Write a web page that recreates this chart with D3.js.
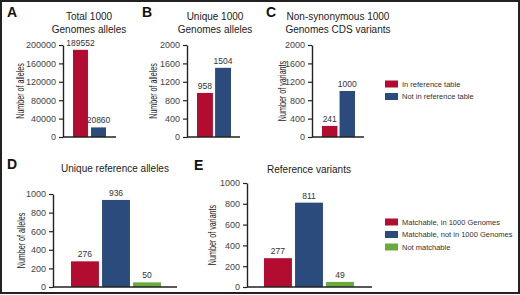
<!DOCTYPE html>
<html>
<head>
<meta charset="utf-8">
<script src="https://cdn.jsdelivr.net/npm/d3@7"></script>
<style>
	body { margin: 0; background: #fff; }
	text { font-family: "Liberation Sans", Arial, sans-serif; fill: #222; }
</style>
</head>
<body>
<div id="chart"></div>
<script>
// chart values
var refCategories = ["In reference table", "Not in reference table"];
var matchCategories = ["Matchable, in 1000 Genomes", "Matchable, not in 1000 Genomes", "Not matchable"];

var totalAlleles = [189552, 20860];
var uniqueAlleles = [958, 1504];
var nonSynVariants = [241, 1000];
var uniqueRefAlleles = [276, 936, 50];
var refVariants = [277, 811, 49];

var ticksA = [0, 40000, 80000, 120000, 160000, 200000];
var ticksBC = [0, 400, 800, 1200, 1600, 2000];
var ticksDE = [0, 200, 400, 600, 800, 1000];

var colours = ["#b20c30", "#2c4b7d", "#6bab3e"];

function init() {
	var w = 520;
	var h = 295;

	var svg = d3.select("#chart")
		.append("svg")
		.attr("width", w)
		.attr("height", h);

	// frame round the figure
	svg.append("rect")
		.attr("x", 1)
		.attr("y", 1)
		.attr("width", w - 2)
		.attr("height", h - 3)
		.attr("fill", "none")
		.attr("stroke", "#222")
		.attr("stroke-width", 2);

	var panels = [
		{ letter: "A", lx: 7, title: ["Total 1000", "Genomes alleles"], tx: 89, ty: 20,
		  values: totalAlleles, cats: refCategories, ticks: ticksA, ylabel: "Number of alleles", ylx: 20,
		  ax: 63, axEnd: 116, bars: [73, 106], pad: 0.17, top: 45, bottom: 137 },
		{ letter: "B", lx: 142, title: ["Unique 1000", "Genomes alleles"], tx: 215, ty: 20,
		  values: uniqueAlleles, cats: refCategories, ticks: ticksBC, ylabel: "Number of alleles", ylx: 153,
		  ax: 187, axEnd: 240, bars: [197, 231], pad: 0.12, top: 45, bottom: 137 },
		{ letter: "C", lx: 266, title: ["Non-synonymous 1000", "Genomes CDS variants"], tx: 338, ty: 20,
		  values: nonSynVariants, cats: refCategories, ticks: ticksBC, ylabel: "Number of variants", ylx: 282,
		  ax: 312, axEnd: 364, bars: [322, 355], pad: 0.12, top: 45, bottom: 137 },
		{ letter: "D", lx: 7, title: ["Unique reference alleles"], tx: 115, ty: 172,
		  values: uniqueRefAlleles, cats: matchCategories, ticks: ticksDE, ylabel: "Number of alleles", ylx: 21,
		  ax: 53, axEnd: 177, bars: [71, 161], pad: 0.1, top: 194, bottom: 287 },
		{ letter: "E", lx: 194, title: ["Reference variants"], tx: 309, ty: 173,
		  values: refVariants, cats: matchCategories, ticks: ticksDE, ylabel: "Number of variants", ylx: 212,
		  ax: 247, axEnd: 372, bars: [264, 354], pad: 0.1, top: 183, bottom: 287 }
	];

	panels.forEach(function(p) {
		var g = svg.append("g");

		var x = d3.scaleBand()
			.domain(p.cats)
			.range(p.bars)
			.paddingInner(p.pad)
			.paddingOuter(0);

		var y = d3.scaleLinear()
			.domain([0, p.ticks[p.ticks.length - 1]])
			.range([p.bottom, p.top]);

		g.append("text")
			.attr("x", p.lx)
			.attr("y", p.ty - 3)
			.attr("font-size", 14)
			.attr("font-weight", "bold")
			.style("fill", "#111")
			.text(p.letter);

		g.append("text")
			.attr("x", p.tx)
			.attr("y", p.ty)
			.attr("text-anchor", "middle")
			.attr("font-size", 10)
			.selectAll("tspan")
			.data(p.title)
			.join("tspan")
				.attr("x", p.tx)
				.attr("dy", (d, i) => i === 0 ? 0 : 12.5)
				.text(d => d);

		g.selectAll(".bar")
			.data(p.values)
			.join("rect")
				.attr("x", (d, i) => x(p.cats[i]))
				.attr("y", d => y(d))
				.attr("width", x.bandwidth())
				.attr("height", d => y(0) - y(d))
				.attr("fill", (d, i) => colours[i]);

		g.selectAll(".val")
			.data(p.values)
			.join("text")
				.attr("x", (d, i) => x(p.cats[i]) + x.bandwidth() / 2)
				.attr("y", d => y(d) - 4)
				.attr("text-anchor", "middle")
				.attr("font-size", 8.5)
				.style("fill", "#333")
				.text(d => d);

		var yAxis = g.append("g")
			.attr("transform", `translate(${p.ax},0)`)
			.call(d3.axisLeft(y).tickValues(p.ticks).tickFormat(d3.format("d"))
				.tickSize(4).tickSizeOuter(0).tickPadding(3));
		yAxis.select(".domain").attr("stroke", "#222").attr("stroke-width", 1.4);
		yAxis.selectAll(".tick line").attr("stroke", "#222").attr("stroke-width", 1.2);
		yAxis.selectAll(".tick text")
			.attr("font-size", 9)
			.attr("font-family", "Liberation Sans, Arial, sans-serif")
			.style("fill", "#444");

		g.append("line")
			.attr("x1", p.ax)
			.attr("x2", p.axEnd)
			.attr("y1", y(0))
			.attr("y2", y(0))
			.attr("stroke", "#222")
			.attr("stroke-width", 1.4);

		g.append("text")
			.attr("transform", `translate(${p.ylx},${(p.top + p.bottom) / 2}) rotate(-90) scale(0.68,1)`)
			.attr("text-anchor", "middle")
			.attr("dy", "0.35em")
			.attr("font-size", 10.5)
			.text(p.ylabel);
	});

	// legends
	var legends = [
		{ cats: refCategories, x: 385, y: 84 },
		{ cats: matchCategories, x: 385, y: 222 }
	];
	legends.forEach(function(l) {
		var rows = svg.append("g")
			.selectAll("g")
			.data(l.cats)
			.join("g")
				.attr("transform", (d, i) => `translate(${l.x},${l.y + i * 12.5})`);
		rows.append("rect")
			.attr("x", 0)
			.attr("y", -3.5)
			.attr("width", 13)
			.attr("height", 7)
			.attr("fill", (d, i) => colours[i]);
		rows.append("text")
			.attr("x", 17)
			.attr("dy", "0.35em")
			.attr("font-size", 7.5)
			.style("fill", "#333")
			.text(d => d);
	});
}

window.onload = init;
</script>
</body>
</html>
